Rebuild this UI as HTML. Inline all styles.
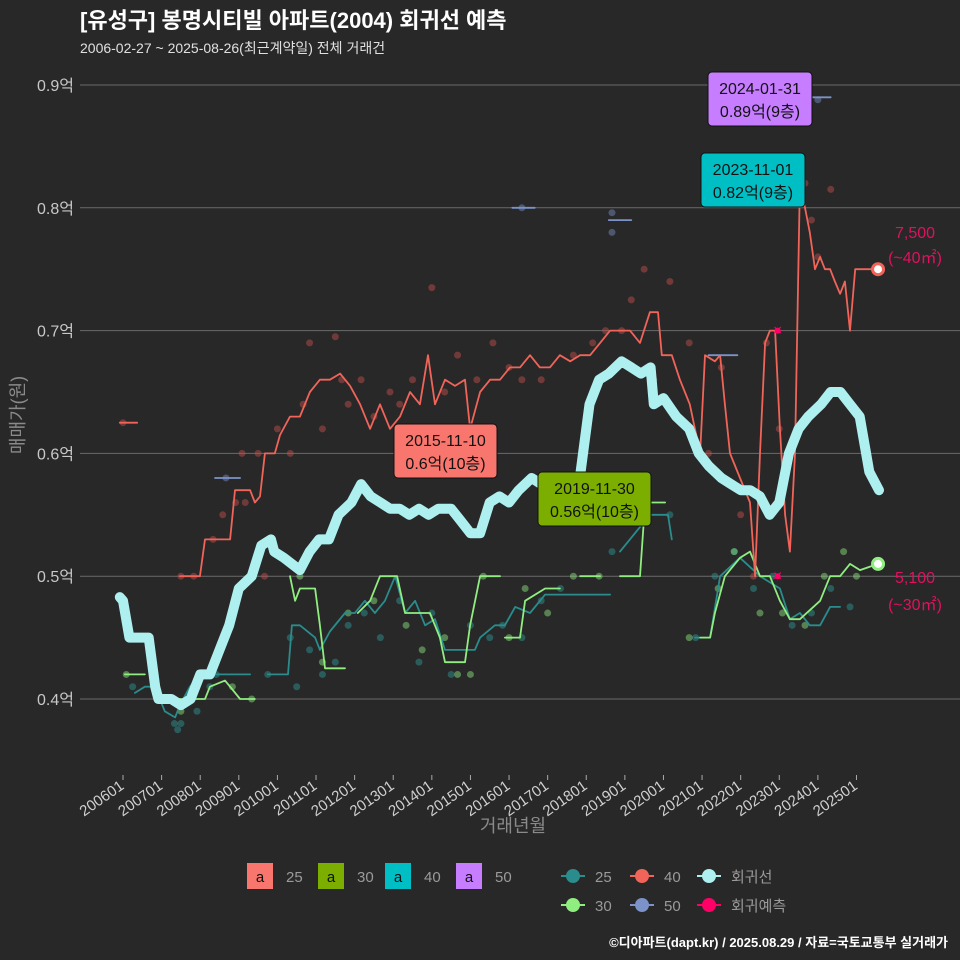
<!DOCTYPE html>
<html><head><meta charset="utf-8">
<style>
body{margin:0;background:#282828;}
svg{display:block;font-family:"Liberation Sans","Noto Sans CJK KR",sans-serif;}
</style></head>
<body>
<svg id="c" width="960" height="960" viewBox="0 0 960 960" xmlns="http://www.w3.org/2000/svg">
<rect width="960" height="960" fill="#282828"/>
<text x="80" y="28" font-size="22" font-weight="bold" fill="#ffffff">[유성구] 봉명시티빌 아파트(2004) 회귀선 예측</text>
<text x="80" y="53" font-size="14" fill="#e0e0e0">2006-02-27 ~ 2025-08-26(최근계약일) 전체 거래건</text>
<g id="grid"></g>
<g id="marks"></g>
<text transform="translate(24,415) rotate(-90)" text-anchor="middle" font-size="18" fill="#8a8a8a">매매가(원)</text>
<text x="513" y="832" text-anchor="middle" font-size="18" fill="#8a8a8a">거래년월</text>
<g id="legend"></g>
<text x="948" y="947" text-anchor="end" font-size="13" font-weight="bold" fill="#ffffff">©디아파트(dapt.kr) / 2025.08.29 / 자료=국토교통부 실거래가</text>
</svg>
<script>
// months since 2006-01
const yTicks=[0.4,0.5,0.6,0.7,0.8,0.9];
const xTickLabels=["200601","200701","200801","200901","201001","201101","201201","201301","201401","201501","201601","201701","201801","201901","202001","202101","202201","202301","202401","202501"];
const regM=[-1,0,2,5,8,10,11,15,18,21,24,27,30,33,36,40,43,46,47,50,55,58,61,64,67,71,74,77,80,83,86,89,92,95,98,102,105,108,111,114,117,120,123,127,130,133,136,139,142,145,148,151,155,158,161,164,165,168,172,176,179,182,186,189,192,195,198,201,204,207,210,213,217,220,223,226,229,231,232,235];
const regV=[0.483,0.48,0.45,0.45,0.45,0.41,0.40,0.40,0.395,0.40,0.42,0.42,0.44,0.46,0.49,0.50,0.525,0.53,0.52,0.515,0.505,0.52,0.53,0.53,0.55,0.56,0.575,0.565,0.56,0.555,0.555,0.55,0.555,0.55,0.555,0.555,0.545,0.535,0.535,0.56,0.565,0.56,0.57,0.58,0.575,0.575,0.56,0.575,0.58,0.64,0.66,0.665,0.675,0.67,0.665,0.67,0.64,0.645,0.63,0.62,0.60,0.59,0.58,0.575,0.57,0.57,0.565,0.55,0.56,0.60,0.62,0.63,0.64,0.65,0.65,0.64,0.63,0.60,0.585,0.57];
const redM=[-1,4.4,null,17.7,23.9,25.5,33.3,34.8,39.5,41,42.6,44.1,47.2,48.8,51.9,55,58.1,61.2,64.3,67.5,70.6,73.7,76.8,79.9,83,86.1,89.2,92.3,94.8,97,100.1,103.2,106.3,107.9,111,114.1,117.2,120.3,123.4,126.5,129.6,132.7,135.8,139,142.1,145.2,148.3,151.4,154.5,157.6,160.7,163.8,166.3,167.5,170.6,173.1,176.2,179.4,180.9,184,185.6,187.1,188.7,191.8,194.9,196.5,198,199.6,201.1,202.7,204.2,205.8,207.3,208.9,210.4,212,213.5,215.1,216.7,218.2,219.8,221.3,222.9,224.4,226,227.6,234.7];
const redV=[0.625,0.625,null,0.5,0.5,0.53,0.53,0.57,0.57,0.56,0.565,0.6,0.6,0.615,0.63,0.63,0.65,0.66,0.66,0.665,0.655,0.64,0.62,0.64,0.62,0.63,0.65,0.64,0.68,0.64,0.66,0.655,0.66,0.62,0.65,0.66,0.66,0.67,0.67,0.68,0.67,0.67,0.68,0.675,0.68,0.68,0.69,0.70,0.70,0.70,0.69,0.715,0.715,0.68,0.68,0.66,0.64,0.60,0.68,0.675,0.68,0.64,0.60,0.58,0.56,0.50,0.60,0.69,0.70,0.70,0.62,0.55,0.52,0.60,0.82,0.80,0.78,0.75,0.76,0.75,0.75,0.74,0.73,0.74,0.70,0.75,0.75];
const grnM=[0.6,6.8,null,14,25.5,27,31.7,33.3,36.4,41,null,51.9,53.5,55,59.7,61.2,62.8,69,null,73,76.8,79.9,85.2,87.7,95.4,98.5,100.1,106.3,107.9,111,117.2,null,118.7,123.4,125,131.2,135.8,null,142.1,148.3,null,154.5,160.7,162.3,168.5,null,179.4,182.5,184,187.1,191.8,194.9,198,201.1,204.2,207.3,210.4,216.7,219.8,222.9,226,229.1,234.7];
const grnV=[0.42,0.42,null,0.40,0.40,0.41,0.415,0.41,0.40,0.40,null,0.50,0.48,0.49,0.49,0.46,0.425,0.425,null,0.47,0.48,0.50,0.50,0.47,0.47,0.45,0.43,0.43,0.46,0.50,0.50,null,0.45,0.45,0.48,0.49,0.49,null,0.50,0.50,null,0.50,0.50,0.56,0.56,null,0.45,0.45,0.47,0.50,0.515,0.52,0.50,0.50,0.48,0.465,0.465,0.48,0.50,0.50,0.51,0.505,0.51];
const tealM=[3.7,6.8,9.9,13,16.2,17.7,20.8,23.9,39.5,null,45,51.3,52.5,55,59.7,61.2,64.3,69,72.1,75.2,78.3,81.4,84.6,87.7,90.8,93.9,97,100.1,109.4,111,115.6,118.7,121.9,126.5,131.2,151.4,null,154.5,163.8,169.4,170.6,null,177.8,182.5,185.6,191.8,198,204.2,207.3,210.4,213.5,216.7,219.8,222.9];
const tealV=[0.405,0.41,0.41,0.39,0.385,0.395,0.41,0.42,0.42,null,0.42,0.42,0.46,0.46,0.45,0.44,0.455,0.47,0.47,0.48,0.47,0.48,0.50,0.47,0.48,0.46,0.465,0.44,0.44,0.45,0.46,0.46,0.475,0.47,0.485,0.485,null,0.52,0.55,0.55,0.53,null,0.45,0.45,0.50,0.515,0.50,0.49,0.465,0.47,0.46,0.46,0.475,0.475];
const blueM=[28.6,36.4,null,121,128,null,151,158,null,182,191,null,212,220];
const blueV=[0.58,0.58,null,0.80,0.80,null,0.79,0.79,null,0.68,0.68,null,0.89,0.89];
const redPtM=[0,18,22,28,31,35,37,38,42,44,48,52,56,58,62,66,68,70,74,78,83,86,90,96,100,104,110,115,120,124,130,140,146,150,155,158,162,165,170,176,182,186,192,196,200,204,212,214,216,220];
const redPtV=[0.625,0.5,0.5,0.53,0.55,0.56,0.6,0.56,0.6,0.5,0.62,0.6,0.64,0.69,0.62,0.695,0.66,0.64,0.66,0.63,0.65,0.64,0.66,0.735,0.65,0.68,0.66,0.69,0.67,0.66,0.66,0.68,0.69,0.70,0.7,0.725,0.75,0.66,0.74,0.69,0.60,0.67,0.55,0.5,0.69,0.62,0.82,0.79,0.76,0.815];
const grnPtM=[1,14,18,25,34,40,55,62,70,78,88,93,100,104,108,112,120,125,132,140,148,160,176,185,190,198,205,212,218,224,228];
const grnPtV=[0.42,0.40,0.39,0.42,0.41,0.40,0.50,0.43,0.47,0.48,0.46,0.44,0.45,0.42,0.42,0.50,0.45,0.49,0.47,0.50,0.50,0.56,0.45,0.49,0.52,0.47,0.47,0.46,0.5,0.52,0.5];
const tealPtM=[3,10,16,17,18,21,23,27,29,45,52,54,58,62,66,70,75,80,86,92,96,102,108,114,118,124,130,136,152,158,170,178,184,190,196,202,208,214,220,226];
const tealPtV=[0.41,0.42,0.38,0.375,0.38,0.40,0.39,0.41,0.42,0.42,0.45,0.41,0.44,0.42,0.43,0.46,0.47,0.45,0.48,0.43,0.47,0.42,0.46,0.45,0.46,0.45,0.48,0.49,0.52,0.55,0.55,0.45,0.5,0.52,0.49,0.5,0.46,0.47,0.49,0.475];
const bluePtM=[32,124,152,152,216];
const bluePtV=[0.58,0.80,0.796,0.78,0.888];
const fcM=[203.5,203.5];
const fcV=[0.70,0.50];

const NS="http://www.w3.org/2000/svg";
const X0=123,XPM=3.217,Y0=85,YPU=1228;
function sx(m){return X0+m*XPM;}
function sy(v){return Y0+(0.9-v)*YPU;}
function mk(tag,attrs,parent){const e=document.createElementNS(NS,tag);for(const k in attrs)e.setAttribute(k,attrs[k]);parent.appendChild(e);return e;}
const grid=document.getElementById('grid'),marks=document.getElementById('marks');

yTicks.forEach(t=>{
  const l=mk('line',{x1:80,x2:960,y1:sy(t),y2:sy(t),stroke:'#6a6a6a','stroke-width':1},grid);
  
  
  const tx=mk('text',{x:74,y:sy(t)+6,'text-anchor':'end','font-size':16,fill:'#c8c8c8'},grid);
  tx.textContent=t.toFixed(1)+'억';
  
  
});
xTickLabels.forEach((lab,i)=>{
  const x=sx(i*12);
  const tk=mk('line',{x1:x,x2:x,y1:775,y2:780,stroke:'#aaaaaa'},grid);
  
  
  const tx=mk('text',{transform:`translate(${x+2},788) rotate(-35)`,'text-anchor':'end','font-size':15,fill:'#d0d0d0'},grid);
  tx.textContent=lab;
  
  
});

function pathD(M,V){let d='',pen=false;for(let i=0;i<M.length;i++){if(M[i]===null){pen=false;continue;}d+=(pen?'L':'M')+sx(M[i]).toFixed(1)+','+sy(V[i]).toFixed(1);pen=true;}return d;}
function pts(M,V,col,name){M.forEach((m,i)=>{const c=mk('circle',{cx:sx(m),cy:sy(V[i]),r:3.5,fill:col,opacity:0.45},marks);});}
pts(tealPtM,tealPtV,'#2f9b9b','point-40');
pts(grnPtM,grnPtV,'#90ee80','point-30');
pts(redPtM,redPtV,'#c8504c','point-25');
pts(bluePtM,bluePtV,'#7b93c8','point-50');
function line(M,V,col,w,name){const p=mk('path',{d:pathD(M,V),fill:'none',stroke:col,'stroke-width':w,'stroke-linejoin':'round','stroke-linecap':'round'},marks);}
line(tealM,tealV,'#2a8c8c',1.8,'line-40');
line(grnM,grnV,'#90ee80',1.8,'line-30');
line(redM,redV,'#f0645a',1.8,'line-25');
line(blueM,blueV,'#7b93c8',1.8,'line-50');
line(regM,regV,'#aef0f0',10,'regression-line');
fcM.forEach((m,i)=>{const g=mk('text',{x:sx(m),y:sy(fcV[i])+4,'text-anchor':'middle','font-size':12,fill:'#ff0066'},marks);g.textContent='✕';
 const c=mk('circle',{cx:sx(m),cy:sy(fcV[i]),r:3,fill:'#ff0066'},marks);});
const lr=mk('circle',{cx:sx(234.7),cy:sy(0.75),r:5.5,fill:'#ffffff',stroke:'#f0645a','stroke-width':3},marks);


const lg=mk('circle',{cx:sx(234.7),cy:sy(0.51),r:5.5,fill:'#ffffff',stroke:'#90ee80','stroke-width':3},marks);



function box(x,y,w,col,l1,l2,name){const g=mk('g',{},marks);
 mk('rect',{x:x,y:y,width:w,height:54,rx:4,fill:col,stroke:'#111','stroke-width':1},g);
 const t1=mk('text',{x:x+w/2,y:y+22,'text-anchor':'middle','font-size':16,fill:'#111'},g);t1.textContent=l1;
 const t2=mk('text',{x:x+w/2,y:y+45,'text-anchor':'middle','font-size':16,fill:'#111'},g);t2.textContent=l2;}
box(708,72,104,'#c77dff','2024-01-31','0.89억(9층)','annotation-max-50');
box(701,153,104,'#00bfc4','2023-11-01','0.82억(9층)','annotation-max-40');
box(394,424,103,'#f8766d','2015-11-10','0.6억(10층)','annotation-max-25');
box(538,472,113,'#7cae00','2019-11-30','0.56억(10층)','annotation-max-30');
[['7,500',238],['(~40㎡)',263],['5,100',583],['(~30㎡)',610]].forEach(a=>{const t=mk('text',{x:915,y:a[1],'text-anchor':'middle','font-size':16,fill:'#e0115f'},marks);t.textContent=a[0];});

const leg=document.getElementById('legend');
[['#f8766d','25',247],['#7cae00','30',318],['#00bfc4','40',385],['#c77dff','50',456]].forEach(a=>{
 const g=mk('g',{},leg);
 mk('rect',{x:a[2],y:863,width:26,height:26,fill:a[0]},g);
 const t=mk('text',{x:a[2]+13,y:882,'text-anchor':'middle','font-size':15,fill:'#111'},g);t.textContent='a';
 const t2=mk('text',{x:a[2]+39,y:882,'font-size':15,fill:'#9a9a9a'},g);t2.textContent=a[1];});
[['#2a8c8c','25',573,876],['#90ee80','30',573,905],['#f0645a','40',642,876],['#7b93c8','50',642,905],['#aef0f0','회귀선',709,876],['#ff0066','회귀예측',709,905]].forEach(a=>{
 const g=mk('g',{},leg);
 mk('line',{x1:a[2]-12,x2:a[2]+12,y1:a[3],y2:a[3],stroke:a[0],'stroke-width':2},g);
 mk('circle',{cx:a[2],cy:a[3],r:7,fill:a[0]},g);
 const t=mk('text',{x:a[2]+22,y:a[3]+6,'font-size':15,fill:'#9a9a9a'},g);t.textContent=a[1];});
</script>
</body></html>
